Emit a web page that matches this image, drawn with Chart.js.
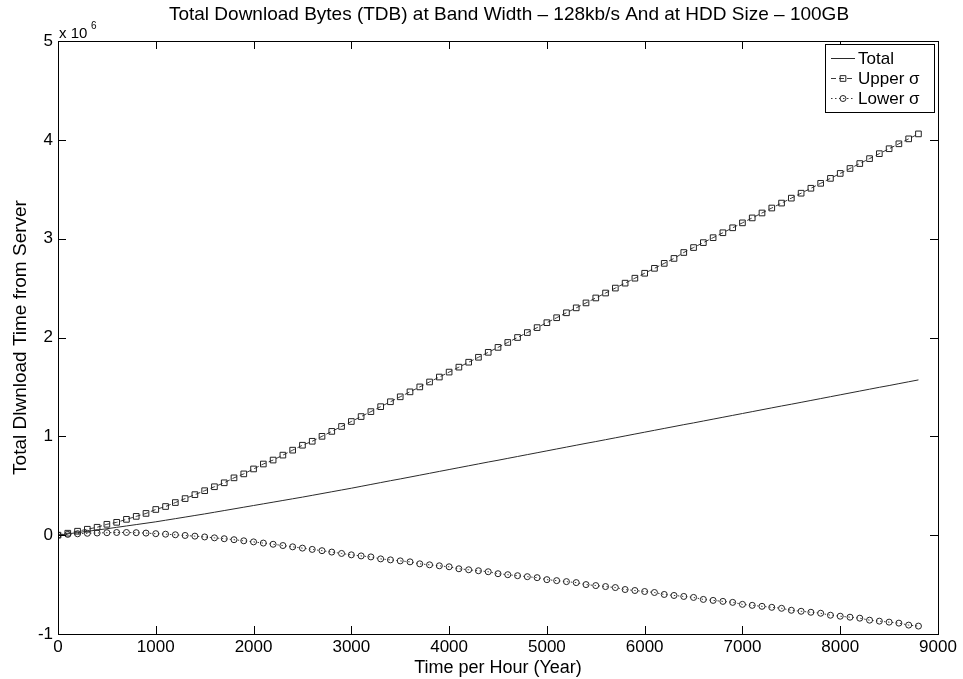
<!DOCTYPE html>
<html>
<head>
<meta charset="utf-8">
<title>Total Download Bytes</title>
<script src="https://cdn.jsdelivr.net/npm/chart.js@4.4.1/dist/chart.umd.min.js"></script>
<style>
	html, body { margin: 0; padding: 0; background: #fff; }
	#wrap { width: 963px; height: 679px; }
</style>
</head>
<body>
<div id="wrap"><canvas id="tdbChart" width="963" height="679"></canvas></div>
<script>
// Hours (x values), one sample every 100 h
const hours = [
	0, 100, 200, 300, 400, 500, 600, 700, 800, 900,
	1000, 1100, 1200, 1300, 1400, 1500, 1600, 1700, 1800, 1900,
	2000, 2100, 2200, 2300, 2400, 2500, 2600, 2700, 2800, 2900,
	3000, 3100, 3200, 3300, 3400, 3500, 3600, 3700, 3800, 3900,
	4000, 4100, 4200, 4300, 4400, 4500, 4600, 4700, 4800, 4900,
	5000, 5100, 5200, 5300, 5400, 5500, 5600, 5700, 5800, 5900,
	6000, 6100, 6200, 6300, 6400, 6500, 6600, 6700, 6800, 6900,
	7000, 7100, 7200, 7300, 7400, 7500, 7600, 7700, 7800, 7900,
	8000, 8100, 8200, 8300, 8400, 8500, 8600, 8700, 8800
];

// Values in units of 10^6
const totalVals = [
	0, 0.013, 0.026, 0.039, 0.052, 0.065, 0.079, 0.093, 0.107, 0.121,
	0.135, 0.151, 0.167, 0.183, 0.199, 0.215, 0.232, 0.249, 0.266, 0.283,
	0.300, 0.317, 0.334, 0.351, 0.368, 0.385, 0.403, 0.421, 0.439, 0.457,
	0.475, 0.494, 0.513, 0.532, 0.551, 0.569, 0.588, 0.607, 0.626, 0.645,
	0.664, 0.683, 0.702, 0.721, 0.740, 0.758, 0.777, 0.796, 0.815, 0.834,
	0.853, 0.872, 0.891, 0.910, 0.929, 0.947, 0.966, 0.985, 1.004, 1.023,
	1.042, 1.061, 1.080, 1.099, 1.118, 1.136, 1.155, 1.174, 1.193, 1.212,
	1.231, 1.250, 1.269, 1.288, 1.307, 1.325, 1.344, 1.363, 1.382, 1.401,
	1.420, 1.439, 1.458, 1.477, 1.496, 1.514, 1.533, 1.552, 1.571
];

const upperVals = [
	0, 0.02, 0.04, 0.06, 0.08, 0.11, 0.13, 0.16, 0.19, 0.22,
	0.26, 0.29, 0.33, 0.37, 0.41, 0.45, 0.49, 0.53, 0.58, 0.62,
	0.67, 0.72, 0.76, 0.81, 0.86, 0.91, 0.95, 1.00, 1.05, 1.10,
	1.15, 1.20, 1.25, 1.30, 1.35, 1.40, 1.45, 1.50, 1.55, 1.60,
	1.65, 1.70, 1.75, 1.80, 1.85, 1.90, 1.95, 2.00, 2.05, 2.10,
	2.15, 2.20, 2.25, 2.30, 2.35, 2.40, 2.45, 2.50, 2.55, 2.60,
	2.65, 2.70, 2.75, 2.80, 2.86, 2.91, 2.96, 3.01, 3.06, 3.11,
	3.16, 3.21, 3.26, 3.31, 3.36, 3.41, 3.46, 3.51, 3.56, 3.61,
	3.66, 3.71, 3.76, 3.81, 3.86, 3.91, 3.96, 4.01, 4.06
];

const lowerVals = [
	0, 0.008, 0.014, 0.019, 0.022, 0.025, 0.027, 0.027, 0.025, 0.021,
	0.015, 0.010, 0.004, -0.003, -0.010, -0.018, -0.027, -0.036, -0.046, -0.057,
	-0.068, -0.080, -0.092, -0.105, -0.118, -0.131, -0.144, -0.157, -0.171, -0.185,
	-0.199, -0.21, -0.22, -0.24, -0.25, -0.26, -0.27, -0.29, -0.30, -0.31,
	-0.32, -0.34, -0.35, -0.36, -0.37, -0.39, -0.40, -0.41, -0.42, -0.43,
	-0.45, -0.46, -0.47, -0.48, -0.50, -0.51, -0.52, -0.53, -0.55, -0.56,
	-0.57, -0.58, -0.60, -0.61, -0.62, -0.63, -0.65, -0.66, -0.67, -0.68,
	-0.70, -0.71, -0.72, -0.73, -0.74, -0.76, -0.77, -0.78, -0.79, -0.81,
	-0.82, -0.83, -0.84, -0.86, -0.87, -0.88, -0.89, -0.91, -0.92
];

const seriesNames = ['Total', 'Upper σ', 'Lower σ'];
const xTicks = [0, 1000, 2000, 3000, 4000, 5000, 6000, 7000, 8000, 9000];
const yTicks = [-1, 0, 1, 2, 3, 4, 5];

const chartTitle = 'Total Download Bytes (TDB) at Band Width – 128kb/s And at HDD Size – 100GB';
const xTitle = 'Time per Hour (Year)';
const yTitle = 'Total Dlwnload Time from Server';

const FONT = '"Liberation Sans", Arial, Helvetica, sans-serif';

function toPoints(vals) {
	return hours.map((h, i) => ({ x: h, y: vals[i] }));
}

// frame, inward ticks, exponent, title and MATLAB-like legend box
const matlabDecor = {
	id: 'matlabDecor',
	afterDraw(chart) {
		const ctx = chart.ctx;
		const a = chart.chartArea;
		const sx = chart.scales.x, sy = chart.scales.y;
		ctx.save();
		ctx.strokeStyle = '#000';
		ctx.lineWidth = 1;
		ctx.strokeRect(Math.round(a.left) + 0.5, Math.round(a.top) + 0.5,
			Math.round(a.right - a.left), Math.round(a.bottom - a.top));

		ctx.beginPath();
		xTicks.forEach(v => {
			const px = Math.round(sx.getPixelForValue(v)) + 0.5;
			ctx.moveTo(px, a.bottom); ctx.lineTo(px, a.bottom - 8);
			ctx.moveTo(px, a.top); ctx.lineTo(px, a.top + 8);
		});
		yTicks.forEach(v => {
			const py = Math.round(sy.getPixelForValue(v)) + 0.5;
			ctx.moveTo(a.left, py); ctx.lineTo(a.left + 8, py);
			ctx.moveTo(a.right, py); ctx.lineTo(a.right - 8, py);
		});
		ctx.stroke();

		// exponent
		ctx.fillStyle = '#000';
		ctx.textBaseline = 'alphabetic';
		ctx.textAlign = 'left';
		ctx.font = '15px ' + FONT;
		ctx.fillText('x 10', a.left + 1, a.top - 3);
		ctx.font = '10px ' + FONT;
		ctx.fillText('6', a.left + 33, a.top - 12);

		// title
		ctx.font = '19px ' + FONT;
		ctx.textAlign = 'center';
		ctx.textBaseline = 'middle';
		ctx.fillText(chartTitle, 509, 15);

		// legend
		const lx = 825, ly = 44, lw = 109, lh = 68;
		ctx.fillStyle = '#fff';
		ctx.fillRect(lx, ly, lw, lh);
		ctx.strokeStyle = '#000';
		ctx.strokeRect(lx + 0.5, ly + 0.5, lw, lh);
		chart.data.datasets.forEach((ds, i) => {
			const y = ly + 14 + i * 20;
			ctx.save();
			ctx.strokeStyle = ds.borderColor;
			ctx.lineWidth = 1;
			ctx.setLineDash(ds.borderDash || []);
			ctx.beginPath();
			ctx.moveTo(lx + 6, y + 0.5);
			ctx.lineTo(lx + 30, y + 0.5);
			ctx.stroke();
			ctx.restore();
			if (ds.pointRadius > 0) {
				ctx.save();
				ctx.fillStyle = 'rgba(0,0,0,0)';
				ctx.strokeStyle = ds.pointBorderColor;
				ctx.lineWidth = 1;
				Chart.helpers.drawPoint(ctx, {
					pointStyle: ds.pointStyle,
					radius: ds.pointRadius,
					borderWidth: 1
				}, lx + 18, y + 0.5);
				ctx.restore();
			}
			ctx.fillStyle = '#000';
			ctx.font = '17px ' + FONT;
			ctx.textAlign = 'left';
			ctx.textBaseline = 'middle';
			ctx.fillText(ds.label, lx + 33, y + 1);
		});
		ctx.restore();
	}
};

document.addEventListener('DOMContentLoaded', function() {
	const ctx = document.getElementById('tdbChart').getContext('2d');
	window.myChart = new Chart(ctx, {
		type: 'line',
		data: {
			datasets: [{
				label: seriesNames[0],
				data: toPoints(totalVals),
				borderColor: '#2a2a2a',
				borderWidth: 1,
				pointRadius: 0,
				fill: false,
				tension: 0
			}, {
				label: seriesNames[1],
				data: toPoints(upperVals),
				borderColor: '#3a3a3a',
				borderWidth: 1,
				borderDash: [5, 3],
				pointStyle: 'rect',
				pointRadius: 4,
				pointBorderColor: '#222',
				pointBackgroundColor: 'rgba(0,0,0,0)',
				pointBorderWidth: 1,
				fill: false,
				tension: 0
			}, {
				label: seriesNames[2],
				data: toPoints(lowerVals),
				borderColor: '#3a3a3a',
				borderWidth: 1,
				borderDash: [1.5, 2.5],
				pointStyle: 'circle',
				pointRadius: 3,
				pointBorderColor: '#222',
				pointBackgroundColor: 'rgba(0,0,0,0)',
				pointBorderWidth: 1,
				fill: false,
				tension: 0
			}]
		},
		options: {
			responsive: false,
			animation: false,
			devicePixelRatio: 1,
			layout: { padding: { left: 0, top: 41, right: 25, bottom: 0 } },
			scales: {
				x: {
					type: 'linear',
					min: 0,
					max: 9000,
					afterBuildTicks: s => { s.ticks = xTicks.map(v => ({ value: v })); },
					afterFit: s => { s.height = 45; },
					grid: { display: false, drawTicks: false },
					border: { display: false },
					ticks: { color: '#000', font: { family: FONT, size: 17 }, padding: 3, maxRotation: 0, callback: v => String(v) },
					title: { display: true, text: xTitle, color: '#000', font: { family: FONT, size: 18 }, padding: { top: 0, bottom: 0 } }
				},
				y: {
					type: 'linear',
					min: -1,
					max: 5,
					afterBuildTicks: s => { s.ticks = yTicks.map(v => ({ value: v })); },
					afterFit: s => { s.width = 58; },
					grid: { display: false, drawTicks: false },
					border: { display: false },
					ticks: { color: '#000', font: { family: FONT, size: 17 }, padding: 5, callback: v => String(v) },
					title: { display: true, text: yTitle, color: '#000', font: { family: FONT, size: 19 }, padding: { top: 9, bottom: 0 } }
				}
			},
			plugins: {
				legend: { display: false },
				title: { display: false },
				tooltip: { enabled: false }
			}
		},
		plugins: [matlabDecor]
	});
});
</script>
</body>
</html>
